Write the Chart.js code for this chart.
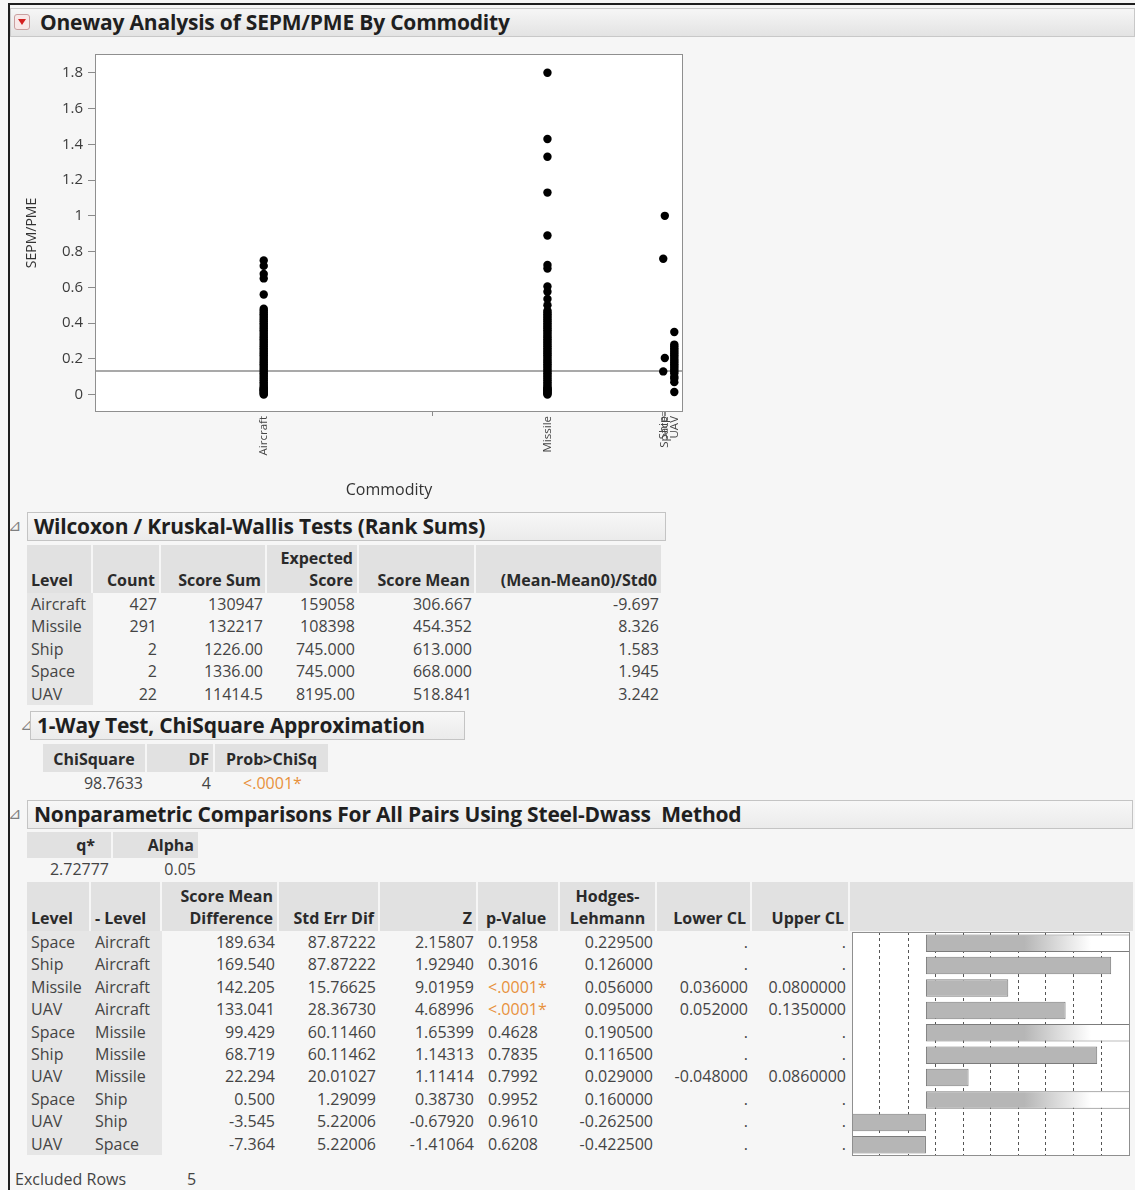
<!DOCTYPE html>
<html>
<head>
<meta charset="utf-8">
<title>Oneway Analysis of SEPM/PME By Commodity</title>
<script src="https://cdn.jsdelivr.net/npm/chart.js@4.4.1/dist/chart.umd.min.js"></script>
<style>
    body { margin: 0; width: 1135px; height: 1190px; position: relative; overflow: hidden;
           background: #f6f6f6; font-family: "Open Sans", "Noto Sans", sans-serif; color: #444; }
    .abs { position: absolute; }
    .outline { left: 8px; top: 3px; width: 1127px; height: 1187px; box-sizing: border-box;
               border-left: 2px solid #1e1e1e; border-top: 2px solid #1e1e1e; }
    .titlebar { left: 10px; top: 8px; width: 1125px; height: 29px; box-sizing: border-box;
                border: 1px solid #c8c8c8; background: linear-gradient(#f6f6f6, #e3e3e3);
                font-weight: bold; font-size: 21px; color: #1f1f1f; line-height: 26px; padding-left: 29px; letter-spacing: -0.2px; }
    .redtri { left: 14px; top: 14px; width: 16px; height: 16px; box-sizing: border-box;
              border: 1px solid #c9a0a0; border-radius: 3px; background: #f8e8e8; }
    .redtri::after { content: ""; position: absolute; left: 3px; top: 4px;
                     border-left: 4.5px solid transparent; border-right: 4.5px solid transparent;
                     border-top: 6px solid #d42020; }
    .sec { box-sizing: border-box; height: 29px; border: 1px solid #c4c4c4; background: linear-gradient(#f7f7f7, #ebebeb);
           font-weight: bold; font-size: 21px; color: #1f1f1f; line-height: 26px; padding-left: 6px; white-space: nowrap; letter-spacing: -0.2px; }
    .disc { font-family: "DejaVu Sans", sans-serif; font-size: 16px; color: #808080; }
    table { border-collapse: separate; border-spacing: 0; table-layout: fixed; font-size: 16px; }
    th { background: #e1e1e1; font-weight: bold; color: #2a2a2a; text-align: right; vertical-align: bottom;
         padding: 2px 4px; line-height: 22px; border-right: 2px solid #f6f6f6; white-space: nowrap; box-sizing: border-box; }
    td { height: 22.4px; line-height: 22.4px; padding: 0 4px; text-align: right; white-space: nowrap; }
    td.lvl, th.lvl { text-align: left; }
    td.lvl { background: #e6e6e6; }
    .sig { color: #e8913c; }
    .plot { left: 10px; top: 40px; width: 690px; height: 470px; }
    .hlbox { left: 852px; top: 932px; width: 278px; height: 224px; }
</style>
</head>
<body>
<div class="abs outline"></div>
<div class="abs titlebar">Oneway Analysis of SEPM/PME By Commodity</div>
<div class="abs redtri"></div>

<div class="abs plot"><canvas id="onewayChart" width="690" height="470"></canvas></div>

<div class="abs disc" style="left:8px;top:516px;">&#8895;</div>
<div class="abs sec" style="left:27px;top:512px;width:639px;">Wilcoxon / Kruskal-Wallis Tests (Rank Sums)</div>
<table class="abs" id="wilcoxTable" style="left:27px;top:545px;"></table>

<div class="abs disc" style="left:20px;top:715px;">&#8895;</div>
<div class="abs sec" style="left:30px;top:711px;width:435px;">1-Way Test, ChiSquare Approximation</div>
<table class="abs" id="chiTable" style="left:43px;top:744px;"></table>

<div class="abs disc" style="left:8px;top:804px;">&#8895;</div>
<div class="abs sec" style="left:27px;top:800px;width:1106px;">Nonparametric Comparisons For All Pairs Using Steel-Dwass&nbsp; Method</div>
<table class="abs" id="qTable" style="left:27px;top:832px;"></table>
<table class="abs" id="steelTable" style="left:27px;top:882px;"></table>
<div class="abs hlbox"><canvas id="hlChart" width="278" height="224"></canvas></div>

<div class="abs" style="left:15px;top:1168px;font-size:16px;">Excluded Rows</div>
<div class="abs" style="left:187px;top:1168px;font-size:16px;">5</div>

<script>
// ---- plot data ----
const categories = ["Aircraft", "Missile", "Ship", "Space", "UAV"];
const counts = [427, 291, 2, 2, 22];

const aircraftValues = [0, 0.005, 0.01, 0.015, 0.02, 0.025, 0.03, 0.035, 0.04, 0.05, 0.06, 0.07, 0.08, 0.09,
    0.1, 0.11, 0.12, 0.13, 0.14, 0.15, 0.16, 0.17, 0.18, 0.19, 0.2, 0.21, 0.22, 0.23, 0.24, 0.25, 0.26,
    0.27, 0.28, 0.29, 0.3, 0.31, 0.32, 0.33, 0.34, 0.35, 0.36, 0.37, 0.38, 0.39, 0.4, 0.41, 0.42, 0.43,
    0.44, 0.45, 0.46, 0.47, 0.48, 0.56, 0.65, 0.675, 0.72, 0.75];
const missileValues = [0, 0.005, 0.01, 0.015, 0.02, 0.025, 0.03, 0.035, 0.04, 0.05, 0.06, 0.07, 0.08, 0.09,
    0.1, 0.11, 0.12, 0.13, 0.14, 0.15, 0.16, 0.17, 0.18, 0.19, 0.2, 0.21, 0.22, 0.23, 0.24, 0.25, 0.26,
    0.27, 0.28, 0.29, 0.3, 0.31, 0.32, 0.33, 0.34, 0.35, 0.36, 0.37, 0.38, 0.39, 0.4, 0.41, 0.42, 0.43,
    0.44, 0.45, 0.46, 0.47, 0.5, 0.535, 0.575, 0.605, 0.705, 0.725, 0.89, 1.13, 1.33, 1.43, 1.8];
const shipValues = [0.76, 0.13];
const spaceValues = [1.0, 0.205];
const uavValues = [0.35, 0.28, 0.27, 0.26, 0.25, 0.24, 0.23, 0.22, 0.21, 0.2, 0.19, 0.18, 0.17, 0.16,
    0.15, 0.14, 0.13, 0.12, 0.1, 0.09, 0.07, 0.015];
const grandMean = 0.132;
const yTicks = [0, 0.1, 0.2, 0.3, 0.4, 0.5, 0.6, 0.7, 0.8, 0.9, 1, 1.1, 1.2, 1.3, 1.4, 1.5, 1.6, 1.7, 1.8, 1.9];

// ---- Wilcoxon table ----
const wxScoreSum = ["130947", "132217", "1226.00", "1336.00", "11414.5"];
const wxExpected = ["159058", "108398", "745.000", "745.000", "8195.00"];
const wxScoreMean = ["306.667", "454.352", "613.000", "668.000", "518.841"];
const wxStd0 = ["-9.697", "8.326", "1.583", "1.945", "3.242"];

const chiSquare = "98.7633";
const chiDF = "4";
const chiProb = "<.0001*";
const qStar = "2.72777";
const alpha = "0.05";

// ---- Steel-Dwass table ----
const pairLevel = ["Space", "Ship", "Missile", "UAV", "Space", "Ship", "UAV", "Space", "UAV", "UAV"];
const pairOther = ["Aircraft", "Aircraft", "Aircraft", "Aircraft", "Missile", "Missile", "Missile", "Ship", "Ship", "Space"];
const scoreMeanDiff = ["189.634", "169.540", "142.205", "133.041", "99.429", "68.719", "22.294", "0.500", "-3.545", "-7.364"];
const stdErrDif = ["87.87222", "87.87222", "15.76625", "28.36730", "60.11460", "60.11462", "20.01027", "1.29099", "5.22006", "5.22006"];
const zValues = ["2.15807", "1.92940", "9.01959", "4.68996", "1.65399", "1.14313", "1.11414", "0.38730", "-0.67920", "-1.41064"];
const pValues = ["0.1958", "0.3016", "<.0001*", "<.0001*", "0.4628", "0.7835", "0.7992", "0.9952", "0.9610", "0.6208"];
const hodgesLehmann = [0.2295, 0.126, 0.056, 0.095, 0.1905, 0.1165, 0.029, 0.16, -0.2625, -0.4225];
const lowerCL = [".", ".", "0.036000", "0.052000", ".", ".", "-0.048000", ".", ".", "."];
const upperCL = [".", ".", "0.0800000", "0.1350000", ".", ".", "0.0860000", ".", ".", "."];
const hlAxisMin = -0.0503;
const hlAxisMax = 0.1388;
const hlGrid = [-0.0315, -0.0121, 0.0065, 0.0253, 0.0441, 0.0629, 0.0815, 0.1006, 0.1191];

Chart.defaults.font.family = "'Open Sans', 'Noto Sans', sans-serif";

function colgroup(widths) {
    return "<colgroup>" + widths.map(w => '<col style="width:' + w + 'px">').join("") + "</colgroup>";
}
function sigCell(v) {
    return v.indexOf("<") === 0 ? '<span class="sig">' + v.replace("<", "&lt;") + "</span>" : v;
}

function buildTables() {
    let h = colgroup([66, 68, 106, 92, 117, 187]);
    h += '<tr><th class="lvl" style="height:48px">Level</th><th>Count</th><th>Score Sum</th>'
        + '<th>Expected<br>Score</th><th>Score Mean</th><th>(Mean-Mean0)/Std0</th></tr>';
    categories.forEach((c, i) => {
        h += '<tr><td class="lvl">' + c + "</td><td>" + counts[i] + "</td><td>" + wxScoreSum[i] + "</td><td>"
            + wxExpected[i] + "</td><td>" + wxScoreMean[i] + "</td><td>" + wxStd0[i] + "</td></tr>";
    });
    document.getElementById("wilcoxTable").innerHTML = h;

    document.getElementById("chiTable").innerHTML = colgroup([104, 68, 115])
        + '<tr><th style="height:28px;text-align:center">ChiSquare</th><th>DF</th><th style="text-align:center">Prob&gt;ChiSq</th></tr>'
        + "<tr><td>" + chiSquare + "</td><td>" + chiDF + '</td><td style="text-align:center">' + sigCell(chiProb) + "</td></tr>";

    document.getElementById("qTable").innerHTML = colgroup([86, 87])
        + '<tr><th style="height:24px;padding-right:16px">q*</th><th>Alpha</th></tr>'
        + "<tr><td>" + qStar + "</td><td>" + alpha + "</td></tr>";

    let s = colgroup([64, 71, 117, 101, 98, 82, 97, 95, 98, 283]);
    s += '<tr><th class="lvl" style="height:49px">Level</th><th class="lvl">- Level</th><th>Score Mean<br>Difference</th>'
        + '<th>Std Err Dif</th><th>Z</th><th class="lvl" style="padding-left:8px">p-Value</th>'
        + '<th style="text-align:center">Hodges-<br>Lehmann</th><th>Lower CL</th><th>Upper CL</th><th style="border-right:0"></th></tr>';
    pairLevel.forEach((l, i) => {
        s += '<tr><td class="lvl">' + l + '</td><td class="lvl">' + pairOther[i] + "</td><td>" + scoreMeanDiff[i]
            + "</td><td>" + stdErrDif[i] + "</td><td>" + zValues[i] + '</td><td style="text-align:left;padding-left:10px">'
            + sigCell(pValues[i]) + "</td><td>" + hodgesLehmann[i].toFixed(6) + "</td><td>" + lowerCL[i]
            + "</td><td>" + upperCL[i] + "</td><td></td></tr>";
    });
    document.getElementById("steelTable").innerHTML = s;
}

// white plot background + grey frame round the chart area
const plotFrame = {
    id: "plotFrame",
    beforeDraw(chart) {
        const a = chart.chartArea;
        chart.ctx.save();
        chart.ctx.fillStyle = "#ffffff";
        chart.ctx.fillRect(a.left, a.top, a.right - a.left, a.bottom - a.top);
        chart.ctx.restore();
    },
    afterDraw(chart) {
        const a = chart.chartArea;
        chart.ctx.save();
        chart.ctx.strokeStyle = "#8f8f8f";
        chart.ctx.lineWidth = 1;
        chart.ctx.strokeRect(a.left + 0.5, a.top + 0.5, a.right - a.left - 1, a.bottom - a.top - 1);
        chart.ctx.restore();
    }
};

function initOnewayChart() {
    const bounds = [0];
    counts.forEach(c => bounds.push(bounds[bounds.length - 1] + c));
    const centers = counts.map((c, i) => bounds[i] + c / 2);
    const total = bounds[bounds.length - 1];
    const series = [aircraftValues, missileValues, shipValues, spaceValues, uavValues];

    const datasets = series.map((vals, i) => ({
        type: "scatter",
        label: categories[i],
        data: vals.map(v => ({x: centers[i], y: v})),
        pointRadius: 4.2,
        pointBackgroundColor: "#000000",
        pointBorderWidth: 0,
        order: 1
    }));
    datasets.push({
        type: "line",
        label: "Mean",
        data: [{x: 0, y: grandMean}, {x: total, y: grandMean}],
        borderColor: "#8c8c8c",
        borderWidth: 1.5,
        pointRadius: 0,
        order: 5
    });

    new Chart(document.getElementById("onewayChart"), {
        type: "scatter",
        data: {datasets: datasets},
        options: {
            responsive: false,
            animation: false,
            layout: {padding: {top: 13, right: 17, left: 0, bottom: 0}},
            plugins: {legend: {display: false}, tooltip: {enabled: false}},
            scales: {
                x: {
                    type: "linear",
                    min: 0,
                    max: total,
                    afterBuildTicks: function (scale) {
                        const vals = bounds.slice(1, -1).concat(centers).sort((a, b) => a - b);
                        scale.ticks = vals.map(v => ({value: v}));
                    },
                    afterFit: function (scale) { scale.height = 98; },
                    border: {display: false},
                    grid: {
                        drawOnChartArea: false,
                        tickLength: 4,
                        tickColor: ctx => (ctx.tick && centers.includes(ctx.tick.value)) ? "rgba(0,0,0,0)" : "#8a8a8a"
                    },
                    ticks: {
                        autoSkip: false,
                        minRotation: 90,
                        maxRotation: 90,
                        padding: 0,
                        color: "#444",
                        font: {size: 11.5},
                        callback: function (value) {
                            const i = centers.indexOf(value);
                            return i >= 0 ? categories[i] : "";
                        }
                    },
                    title: {display: true, text: "Commodity", color: "#333", font: {size: 16}, padding: {top: 0, bottom: 10}}
                },
                y: {
                    min: -0.097,
                    max: 1.905,
                    afterBuildTicks: function (scale) {
                        scale.ticks = yTicks.map(v => ({value: v}));
                    },
                    afterFit: function (scale) { scale.width = 85; },
                    border: {display: false},
                    grid: {
                        drawOnChartArea: false,
                        tickLength: 7,
                        tickColor: "#8a8a8a"
                    },
                    ticks: {
                        padding: 5,
                        color: "#3c3c3c",
                        font: {size: 15},
                        callback: function (value) {
                            return Math.round(value * 10) % 2 === 0 ? String(value) : "";
                        }
                    },
                    title: {display: true, text: "SEPM/PME", color: "#333", font: {size: 14}, padding: {top: 14, bottom: 0}}
                }
            }
        },
        plugins: [plotFrame]
    });
}

function initHodgesChart() {
    const barGrey = "#b6b6b6";
    new Chart(document.getElementById("hlChart"), {
        type: "bar",
        data: {
            labels: pairLevel.map((l, i) => l + " - " + pairOther[i]),
            datasets: [{
                data: hodgesLehmann,
                backgroundColor: function (ctx) {
                    const chart = ctx.chart;
                    const a = chart.chartArea;
                    if (!a || ctx.raw <= hlAxisMax) return barGrey;
                    // bars running past the right edge fade out
                    const g = chart.ctx.createLinearGradient(a.left, 0, a.right, 0);
                    g.addColorStop(0, barGrey);
                    g.addColorStop(0.62, barGrey);
                    g.addColorStop(0.86, "#ffffff");
                    g.addColorStop(1, "#ffffff");
                    return g;
                },
                borderColor: "#7c7c7c",
                borderWidth: 1,
                borderSkipped: false,
                barPercentage: 0.78,
                categoryPercentage: 1
            }]
        },
        options: {
            indexAxis: "y",
            responsive: false,
            animation: false,
            layout: {padding: 0},
            plugins: {legend: {display: false}, tooltip: {enabled: false}},
            scales: {
                x: {
                    min: hlAxisMin,
                    max: hlAxisMax,
                    afterBuildTicks: function (scale) {
                        scale.ticks = hlGrid.map(v => ({value: v}));
                    },
                    afterFit: function (scale) { scale.height = 0; },
                    border: {display: false, dash: [3, 3]},
                    grid: {color: "#555", lineWidth: 1, drawTicks: false},
                    ticks: {display: false}
                },
                y: {display: false}
            }
        },
        plugins: [plotFrame]
    });
}

document.addEventListener("DOMContentLoaded", function () {
    buildTables();
    initOnewayChart();
    initHodgesChart();
});
</script>
</body>
</html>
